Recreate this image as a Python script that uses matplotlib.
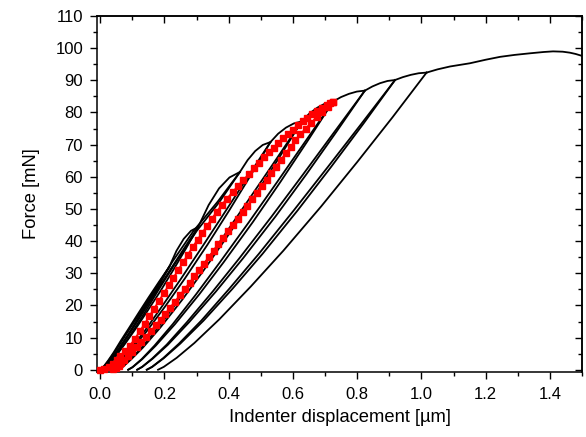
import matplotlib
matplotlib.use("Agg")
import matplotlib.pyplot as plt
from matplotlib.ticker import MultipleLocator

plt.rcParams['font.family'] = ['Liberation Sans', 'DejaVu Sans']

# ---------------- data ----------------
# black cyclic load / unload branches (displacement in um, force in mN)
L1_x = [0, 0.01, 0.02, 0.04, 0.06, 0.08, 0.10, 0.12, 0.14, 0.16, 0.18, 0.20, 0.215]
L1_f = [0, 0.8, 2.0, 4.8, 7.8, 10.9, 14.0, 17.1, 20.2, 23.3, 26.4, 29.6, 32.0]
U1_x = [0.215, 0.188, 0.160, 0.131, 0.100, 0.074, 0.049, 0.029, 0.015, 0.005, 0.0]
U1_f = [32.0, 27.2, 22.4, 17.6, 12.8, 9.0, 5.4, 2.9, 1.3, 0.3, 0]

L2_x = [0, 0.0045, 0.013, 0.025, 0.042, 0.064, 0.0885, 0.119, 0.150, 0.182, 0.215, 0.2375, 0.26, 0.2825, 0.305]
L2_f = [0, 0.3, 1.3, 2.9, 5.4, 9.0, 12.8, 17.6, 22.4, 27.2, 32.0, 37.0, 40.7, 43.2, 44.4]
U2_x = [0.305, 0.267, 0.228, 0.187, 0.144, 0.108, 0.073, 0.045, 0.025, 0.011, 0.004]
U2_f = [44.4, 37.7, 31.1, 24.4, 17.8, 12.4, 7.5, 4.0, 1.8, 0.4, 0]

L3_x = [0.004, 0.0105, 0.023, 0.041, 0.066, 0.098, 0.1325, 0.175, 0.218, 0.261, 0.305, 0.3375, 0.37, 0.4025, 0.435]
L3_f = [0, 0.4, 1.8, 4.0, 7.5, 12.4, 17.8, 24.4, 31.1, 37.7, 44.4, 51.2, 56.4, 59.8, 61.5]
U3_x = [0.435, 0.372, 0.300, 0.238, 0.180, 0.135, 0.092, 0.058, 0.036, 0.019, 0.012]
U3_f = [61.5, 52.3, 43.1, 33.8, 24.6, 17.2, 10.5, 5.5, 2.5, 0.6, 0]

L4_x = [0.012, 0.0185, 0.034, 0.054, 0.085, 0.125, 0.1685, 0.226, 0.290, 0.366, 0.435, 0.459, 0.4825, 0.506, 0.53]
L4_f = [0, 0.6, 2.5, 5.5, 10.5, 17.2, 24.6, 33.8, 43.1, 52.3, 61.5, 65.2, 68.0, 69.9, 70.8]
U4_x = [0.530, 0.467, 0.402, 0.334, 0.263, 0.203, 0.145, 0.098, 0.065, 0.041, 0.030]
U4_f = [70.8, 60.2, 49.6, 38.9, 28.3, 19.8, 12.0, 6.4, 2.8, 0.7, 0]

L5_x = [0.030, 0.0405, 0.063, 0.094, 0.138, 0.193, 0.2515, 0.322, 0.392, 0.461, 0.530, 0.554, 0.5785, 0.603, 0.627]
L5_f = [0, 0.7, 2.8, 6.4, 12.0, 19.8, 28.3, 38.9, 49.6, 60.2, 70.8, 73.4, 75.3, 76.6, 77.2]
U5_x = [0.627, 0.555, 0.480, 0.403, 0.322, 0.254, 0.187, 0.133, 0.095, 0.069, 0.056]
U5_f = [77.2, 65.6, 54.0, 42.5, 30.9, 21.6, 13.1, 6.9, 3.1, 0.8, 0]

L6_x = [0.056, 0.0685, 0.093, 0.129, 0.180, 0.244, 0.3105, 0.391, 0.470, 0.549, 0.627, 0.6515, 0.676, 0.7005, 0.725]
L6_f = [0, 0.8, 3.1, 6.9, 13.1, 21.6, 30.9, 42.5, 54.0, 65.6, 77.2, 79.7, 81.5, 82.8, 83.4]
U6_x = [0.725, 0.644, 0.561, 0.475, 0.384, 0.308, 0.233, 0.173, 0.131, 0.101, 0.087]
U6_f = [83.4, 70.9, 58.4, 45.9, 33.4, 23.4, 14.2, 7.5, 3.3, 0.8, 0]

L7_x = [0.087, 0.1005, 0.129, 0.169, 0.226, 0.298, 0.3725, 0.463, 0.551, 0.638, 0.725, 0.750, 0.7745, 0.799, 0.824]
L7_f = [0, 0.8, 3.3, 7.5, 14.2, 23.4, 33.4, 45.9, 58.4, 70.9, 83.4, 84.8, 85.8, 86.5, 86.8]
U7_x = [0.824, 0.734, 0.642, 0.546, 0.445, 0.360, 0.277, 0.211, 0.164, 0.131, 0.115]
U7_f = [86.8, 73.8, 60.8, 47.7, 34.7, 24.3, 14.8, 7.8, 3.5, 0.9, 0]

L8_x = [0.115, 0.1305, 0.162, 0.207, 0.270, 0.350, 0.4335, 0.534, 0.632, 0.728, 0.824, 0.8475, 0.871, 0.8945, 0.918]
L8_f = [0, 0.9, 3.5, 7.8, 14.8, 24.3, 34.7, 47.7, 60.8, 73.8, 86.8, 88.1, 89.1, 89.8, 90.1]
U8_x = [0.918, 0.820, 0.719, 0.615, 0.505, 0.412, 0.322, 0.249, 0.198, 0.162, 0.145]
U8_f = [90.1, 76.6, 63.1, 49.6, 36.0, 25.2, 15.3, 8.1, 3.6, 0.9, 0]

L9_x = [0.145, 0.1615, 0.196, 0.245, 0.315, 0.402, 0.4935, 0.603, 0.709, 0.814, 0.918, 0.9425, 0.967, 0.9915, 1.016]
L9_f = [0, 0.9, 3.6, 8.1, 15.3, 25.2, 36.0, 49.6, 63.1, 76.6, 90.1, 91.0, 91.7, 92.2, 92.4]
U9_x = [1.016, 0.910, 0.801, 0.688, 0.570, 0.469, 0.371, 0.293, 0.238, 0.198, 0.180]
U9_f = [92.4, 78.5, 64.7, 50.8, 37.0, 25.9, 15.7, 8.3, 3.7, 0.9, 0]

tail_x = [1.016, 1.05, 1.089, 1.12, 1.151, 1.2, 1.245, 1.29, 1.338, 1.38, 1.41, 1.44, 1.462, 1.48, 1.5]
tail_f = [92.4, 93.4, 94.3, 94.8, 95.3, 96.4, 97.3, 97.9, 98.4, 98.8, 99.0, 98.9, 98.6, 98.2, 97.6]

# red highlighted cycle (loading and unloading), symbols
red_load_x = [0, 0.013, 0.026, 0.039, 0.052, 0.063, 0.078, 0.093, 0.108, 0.123, 0.138, 0.153, 0.168,
              0.183, 0.198, 0.213, 0.228, 0.243, 0.258, 0.273, 0.288, 0.303, 0.318, 0.333, 0.348, 0.363,
              0.378, 0.395, 0.412, 0.429, 0.446, 0.463, 0.48, 0.495, 0.51, 0.525, 0.54, 0.555, 0.57,
              0.585, 0.60, 0.615, 0.63, 0.645, 0.66, 0.675, 0.69, 0.705, 0.715, 0.725]
red_load_f = [0, 0.3, 0.9, 1.8, 2.9, 4.2, 5.7, 7.5, 9.6, 11.9, 14.2, 16.6, 19.0,
              21.4, 23.8, 26.2, 28.6, 31.0, 33.4, 35.8, 38.1, 40.4, 42.6, 44.8, 47.0, 49.1,
              51.2, 53.2, 55.2, 57.1, 59.0, 60.8, 62.6, 64.3, 66.0, 67.6, 69.1, 70.6, 72.0,
              73.4, 74.7, 76.0, 77.2, 78.4, 79.5, 80.5, 81.5, 82.4, 82.9, 83.4]
red_unload_x = [0.725, 0.708, 0.691, 0.674, 0.657, 0.640, 0.623, 0.608, 0.593, 0.578, 0.563, 0.548,
                0.533, 0.518, 0.503, 0.488, 0.473, 0.458, 0.443, 0.428, 0.413, 0.398, 0.383, 0.368,
                0.353, 0.338, 0.323, 0.308, 0.293, 0.278, 0.263, 0.248, 0.233, 0.218, 0.203, 0.188,
                0.173, 0.158, 0.143, 0.128, 0.113, 0.100, 0.087, 0.074, 0.066, 0.058, 0.05, 0.04]
red_unload_f = [83.4, 81.8, 80.2, 78.5, 76.8, 75.0, 73.2, 71.3, 69.3, 67.3, 65.3, 63.2,
                61.1, 59.0, 57.0, 55.0, 53.0, 51.0, 49.0, 47.0, 45.0, 43.0, 41.0, 39.0,
                37.0, 35.0, 33.0, 31.0, 29.0, 27.0, 25.0, 23.1, 21.2, 19.3, 17.4, 15.6,
                13.8, 12.0, 10.3, 8.7, 7.1, 5.6, 4.2, 2.9, 2.0, 1.2, 0.5, 0.1]

x_ticks = [0.0, 0.2, 0.4, 0.6, 0.8, 1.0, 1.2, 1.4]
y_ticks = [0, 10, 20, 30, 40, 50, 60, 70, 80, 90, 100, 110]
x_label = "Indenter displacement [µm]"
y_label = "Force [mN]"

# ---------------- figure ----------------
fig = plt.figure(figsize=(5.86, 4.37), dpi=100)
ax = fig.add_axes([97 / 586, 65 / 437, 485 / 586, 356 / 437])

black_branches = [(L1_x, L1_f), (U1_x, U1_f), (L2_x, L2_f), (U2_x, U2_f),
                  (L3_x, L3_f), (U3_x, U3_f), (L4_x, L4_f), (U4_x, U4_f),
                  (L5_x, L5_f), (U5_x, U5_f), (L6_x, L6_f), (U6_x, U6_f),
                  (L7_x, L7_f), (U7_x, U7_f), (L8_x, L8_f), (U8_x, U8_f),
                  (L9_x, L9_f), (U9_x, U9_f), (tail_x, tail_f)]
for bx, bf in black_branches:
    ax.plot(bx, bf, color='black', lw=1.3, solid_joinstyle='round', zorder=2)

for rx, rf in [(red_load_x, red_load_f), (red_unload_x, red_unload_f)]:
    ax.plot(rx, rf, color='red', lw=1.4, marker='s', ms=4.3, mec='red', mfc='red',
            zorder=3, clip_on=False)

ax.set_xlim(-0.01, 1.5)
ax.set_ylim(-0.7, 110)
ax.set_xticks(x_ticks)
ax.set_xticklabels([f"{v:.1f}" for v in x_ticks])
ax.set_yticks(y_ticks)
ax.xaxis.set_minor_locator(MultipleLocator(0.1))
ax.yaxis.set_minor_locator(MultipleLocator(5))

ax.tick_params(which='both', direction='out', width=1.0, labelsize=12, colors='black')
ax.tick_params(which='major', length=5)
ax.tick_params(which='minor', length=3)
ax.tick_params(axis='x', pad=6)
ax.tick_params(axis='y', pad=5)

# inward ticks on top and right
axt = ax.secondary_xaxis('top')
axt.set_xticks(x_ticks)
axt.xaxis.set_minor_locator(MultipleLocator(0.1))
axt.tick_params(which='both', direction='in', labeltop=False, width=1.0)
axt.tick_params(which='major', length=5)
axt.tick_params(which='minor', length=3)
axr = ax.secondary_yaxis('right')
axr.set_yticks(y_ticks)
axr.yaxis.set_minor_locator(MultipleLocator(5))
axr.tick_params(which='both', direction='in', labelright=False, width=1.0)
axr.tick_params(which='major', length=5)
axr.tick_params(which='minor', length=3)

for sp in ax.spines.values():
    sp.set_linewidth(1.1)
for a in (axt, axr):
    for sp in a.spines.values():
        sp.set_linewidth(1.1)

ax.set_xlabel(x_label, fontsize=13.2, labelpad=5)
ax.set_ylabel(y_label, fontsize=13.2, labelpad=11)

fig.savefig("out.png", dpi=100)
